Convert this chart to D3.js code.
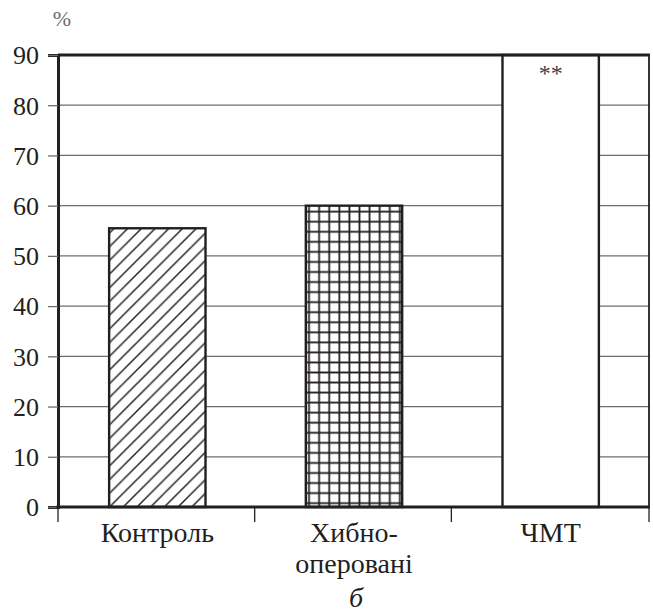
<!DOCTYPE html>
<html lang="uk">
<head>
<meta charset="UTF-8">
<title>Chart</title>
<script src="https://d3js.org/d3.v7.min.js"></script>
<style>
  body { margin: 0; background: #fff; }
  svg text { font-family: "Liberation Serif", "DejaVu Serif", "Times New Roman", serif; fill: #231f20; }
</style>
</head>
<body>
<svg width="653" height="614"></svg>
<script>
// data
const categories = ["Контроль", "Хибно-\nоперовані", "ЧМТ"];
const values = [55.5, 60, 90];
const fills = ["hatch", "grid", "none"];
const yTicks = [0, 10, 20, 30, 40, 50, 60, 70, 80, 90];
const marks = ["", "", "**"];

const svg = d3.select("svg");
const margin = {top: 55, right: 3, bottom: 107, left: 58};
const width = +svg.attr("width");
const height = +svg.attr("height");

const x = d3.scaleBand()
    .domain(categories)
    .range([margin.left, width - margin.right])
    .paddingInner(0.51)
    .paddingOuter(0.26);

const y = d3.scaleLinear()
    .domain([0, 90])
    .range([height - margin.bottom, margin.top]);

// patterns
const defs = svg.append("defs");
const hatch = defs.append("pattern")
    .attr("id", "hatch")
    .attr("patternUnits", "userSpaceOnUse")
    .attr("width", 13.7).attr("height", 13.7);
hatch.append("rect").attr("width", 13.7).attr("height", 13.7).attr("fill", "#fff");
hatch.append("path")
    .attr("d", "M-3.4,3.4 L3.4,-3.4 M0,13.7 L13.7,0 M10.3,17.1 L17.1,10.3")
    .attr("stroke", "#231f20").attr("stroke-width", 1.4);

const grid = defs.append("pattern")
    .attr("id", "grid")
    .attr("patternUnits", "userSpaceOnUse")
    .attr("width", 10.1).attr("height", 10.05)
    .attr("x", 1).attr("y", y(60) + 1);
grid.append("rect").attr("width", 10.1).attr("height", 10.05).attr("fill", "#fff");
grid.append("path")
    .attr("d", "M5,0 V10.05 M0,5 H10.1")
    .attr("stroke", "#231f20").attr("stroke-width", 1.8);

// gridlines
svg.append("g")
    .selectAll("line")
    .data(yTicks.filter(d => d > 0 && d < 90))
    .join("line")
    .attr("x1", margin.left).attr("x2", width - margin.right)
    .attr("y1", d => y(d)).attr("y2", d => y(d))
    .attr("stroke", "#6d6e71").attr("stroke-width", 1.3);

// bars
svg.append("g")
    .selectAll("rect")
    .data(categories)
    .join("rect")
    .attr("x", d => x(d))
    .attr("width", x.bandwidth())
    .attr("y", (d, i) => y(values[i]))
    .attr("height", (d, i) => y(0) - y(values[i]))
    .attr("fill", (d, i) => fills[i] === "none" ? "#fff" : `url(#${fills[i]})`)
    .attr("stroke", "#231f20")
    .attr("stroke-width", 2.4);

// significance marks
svg.append("g")
    .selectAll("text")
    .data(categories)
    .join("text")
    .attr("x", d => x(d) + x.bandwidth() / 2)
    .attr("y", (d, i) => y(values[i]) + 26)
    .attr("text-anchor", "middle")
    .attr("font-size", 24)
    .style("fill", "#414042")
    .text((d, i) => marks[i]);

// frame: top and right
svg.append("line")
    .attr("x1", margin.left).attr("x2", width - margin.right)
    .attr("y1", y(90)).attr("y2", y(90))
    .attr("stroke", "#231f20").attr("stroke-width", 3);
svg.append("line")
    .attr("x1", width - margin.right - 1).attr("x2", width - margin.right - 1)
    .attr("y1", y(90)).attr("y2", y(0))
    .attr("stroke", "#231f20").attr("stroke-width", 1.8);

// y axis
const yAxis = svg.append("g")
    .attr("transform", `translate(${margin.left},0)`)
    .call(d3.axisLeft(y).tickValues(yTicks).tickSize(10).tickPadding(9));
yAxis.attr("font-family", null);
yAxis.select(".domain").attr("stroke", "#231f20").attr("stroke-width", 3);
yAxis.selectAll(".tick line").attr("stroke", "#6d6e71").attr("stroke-width", 1.3);
yAxis.selectAll(".tick text")
    .attr("font-size", 26)
    .attr("dy", "0.34em")
    .style("fill", "#231f20");

// x axis baseline and boundary ticks
const step = x.step();
const bounds = categories.map(d => x(d) - x.paddingOuter() * step)
    .concat([width - margin.right - 1]);
svg.append("g")
    .selectAll("line")
    .data(bounds)
    .join("line")
    .attr("x1", d => d).attr("x2", d => d)
    .attr("y1", y(0)).attr("y2", y(0) + 15)
    .attr("stroke", "#231f20").attr("stroke-width", 1.3);
svg.append("line")
    .attr("x1", margin.left - 1.5).attr("x2", width - margin.right)
    .attr("y1", y(0)).attr("y2", y(0))
    .attr("stroke", "#231f20").attr("stroke-width", 3);

// category labels
svg.append("g")
    .selectAll("text")
    .data(categories)
    .join("text")
    .attr("x", d => x(d) + x.bandwidth() / 2)
    .attr("y", 542)
    .attr("text-anchor", "middle")
    .attr("font-size", 28)
    .each(function(d) {
        const lines = d.split("\n");
        d3.select(this).selectAll("tspan")
            .data(lines)
            .join("tspan")
            .attr("x", x(d) + x.bandwidth() / 2)
            .attr("dy", (l, i) => i === 0 ? 0 : 31)
            .text(l => l);
    });

// unit label
svg.append("text")
    .attr("x", 62).attr("y", 26)
    .attr("text-anchor", "middle")
    .attr("font-size", 22)
    .style("fill", "#6d6e71")
    .text("%");

// panel letter
svg.append("text")
    .attr("x", x(categories[1]) + x.bandwidth() / 2 + 2)
    .attr("y", 607)
    .attr("text-anchor", "middle")
    .attr("font-size", 28)
    .attr("font-style", "italic")
    .text("б");
</script>
</body>
</html>
